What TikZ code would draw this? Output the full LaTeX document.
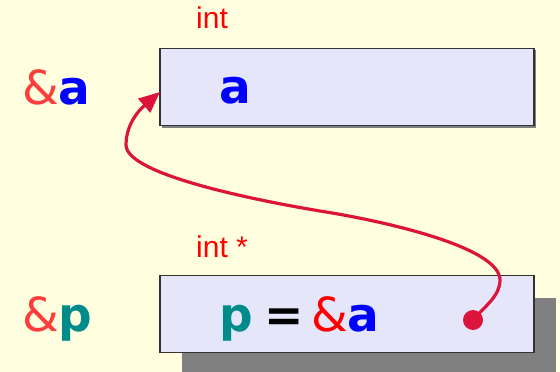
\documentclass[tikz,border=0pt]{standalone}
\usepackage{fontspec}
\setmainfont{Liberation Sans}
\newfontfamily\djv{DejaVu Sans}
\usetikzlibrary{arrows.meta}
\definecolor{bg}{HTML}{FFFFE0}
\definecolor{boxfill}{HTML}{E6E6FA}
\definecolor{boxline}{HTML}{333333}
\definecolor{shadowgray}{HTML}{808080}
\definecolor{crim}{HTML}{DC143C}
\definecolor{ampl}{HTML}{FF3C3C}
\definecolor{tealp}{HTML}{008B8B}
\tikzset{
  membox/.style={draw=boxline, line width=1.3pt, fill=boxfill, minimum width=374pt, minimum height=77pt, inner sep=0pt, outer sep=0pt},
  bigtext/.style={anchor=base west, inner sep=0pt, font=\djv\fontsize{47}{50}\selectfont},
  typetext/.style={anchor=base west, inner sep=0pt, text=red, font=\fontsize{30}{34}\selectfont},
  conn/.style={draw=crim, line width=3.2pt, -{Triangle[length=21pt,width=18pt]}},
  dotnode/.style={circle, fill=crim, minimum size=20pt, inner sep=0pt}
}
\begin{document}
\begin{tikzpicture}[x=1pt,y=-1pt]
\useasboundingbox (0,0) rectangle (560,372);
\fill[bg] (0,0) rectangle (560,372);
% shadows
\begin{scope}
\clip (0,0) rectangle (560,372);
\fill[shadowgray] (182,298) rectangle (556,380);
\end{scope}
\fill[shadowgray] (161.5,49.5) rectangle (535.5,127.5);
% boxes
\node[membox] (boxa) at (347,87) {};
\node[membox] (boxp) at (347,314) {};
% type labels
\node[typetext] (inta) at (196,28) {int};
\node[typetext] (intp) at (196,257) {int *};
% address labels
\node[bigtext] (adra) at (22,104) {{\color{ampl}\&}{\bfseries\color{blue}a}};
\node[bigtext] (adrp) at (22,331) {{\color{ampl}\&}{\bfseries\color{tealp}p}};
% contents
\node[bigtext] (vala) at (219,103) {\bfseries\color{blue}a};
\node[bigtext] (valp) at (219,331) {{\bfseries\color{tealp}p}\hspace{12pt}{\bfseries =}\hspace{7pt}{\color{red}\&}{\bfseries\color{blue}a}};
% pointer
\node[dotnode] (dot) at (473,320) {};
\draw[conn] (dot.center) .. controls (485,306) and (500,296) .. (500,280)
  .. controls (500,248) and (390,222) .. (320,211)
  .. controls (260,201) and (126,175) .. (126,145)
  .. controls (126,120) and (145,105) .. ([yshift=-5pt]boxa.west);
\end{tikzpicture}
\end{document}
